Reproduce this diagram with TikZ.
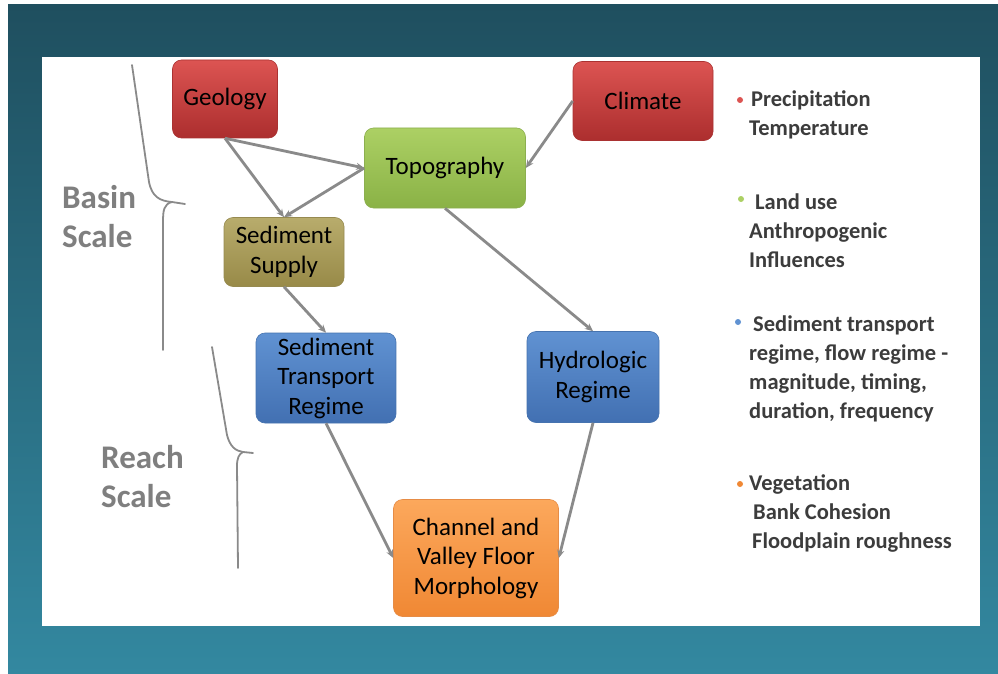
\documentclass[tikz,border=0pt]{standalone}
\usepackage{fontspec}
\setmainfont{Carlito}
\usetikzlibrary{arrows.meta}

\definecolor{frametop}{HTML}{1F4F5F}
\definecolor{framebot}{HTML}{3388A0}
\definecolor{linkgray}{HTML}{8A8A8A}
\definecolor{notegray}{HTML}{3C3C3C}
\definecolor{scalegray}{HTML}{7F7F7F}
\definecolor{redtop}{RGB}{220,84,82}
\definecolor{redbot}{RGB}{172,46,46}
\definecolor{redline}{RGB}{170,50,50}
\definecolor{greentop}{RGB}{172,208,100}
\definecolor{greenbot}{RGB}{138,178,70}
\definecolor{greenline}{RGB}{140,175,80}
\definecolor{olivetop}{RGB}{184,172,108}
\definecolor{olivebot}{RGB}{152,138,72}
\definecolor{oliveline}{RGB}{150,138,80}
\definecolor{bluetop}{RGB}{96,146,210}
\definecolor{bluebot}{RGB}{66,112,178}
\definecolor{blueline}{RGB}{70,115,175}
\definecolor{orangetop}{RGB}{252,168,92}
\definecolor{orangebot}{RGB}{240,136,52}
\definecolor{orangeline}{RGB}{230,140,70}

\begin{document}
\begin{tikzpicture}[x=1pt,y=-1pt,
    box/.style={rounded corners=9pt, inner sep=0pt, align=center,
      font=\fontsize{25}{29.5}\selectfont, text=black, line width=0.6pt},
    redbox/.style={box, top color=redtop, bottom color=redbot, draw=redline},
    greenbox/.style={box, top color=greentop, bottom color=greenbot, draw=greenline},
    olivebox/.style={box, top color=olivetop, bottom color=olivebot, draw=oliveline},
    bluebox/.style={box, top color=bluetop, bottom color=bluebot, draw=blueline},
    orangebox/.style={box, top color=orangetop, bottom color=orangebot, draw=orangeline},
    link/.style={draw=linkgray, line width=2.8pt, -{Stealth[length=8pt,width=7pt]}},
    brace/.style={draw=linkgray, line width=1.8pt, line cap=round, line join=round},
    note/.style={inner sep=0pt, align=left, anchor=west, text=notegray,
      font=\fontsize{22.5}{29}\selectfont\bfseries},
    dot/.style={circle, inner sep=0pt, minimum size=6pt},
    scalelabel/.style={inner sep=0pt, align=left, anchor=west, text=scalegray,
      font=\fontsize{33}{39}\selectfont\bfseries}]
  \useasboundingbox (0,0) rectangle (998,674);
  % frame and panel
  \fill[top color=frametop, bottom color=framebot] (8,5) rectangle (998,674);
  \fill[white] (42,57) rectangle (980,626);

  % boxes
  \node[redbox, minimum width=105pt, minimum height=78pt] (geology) at (225,99) {Geology};
  \node[redbox, minimum width=140pt, minimum height=79pt] (climate) at (643,101) {Climate};
  \node[greenbox, minimum width=161pt, minimum height=80pt] (topo) at (445,168) {Topography};
  \node[olivebox, minimum width=120pt, minimum height=69pt] (supply) at (284,252) {Sediment\\Supply};
  \node[bluebox, minimum width=140pt, minimum height=90pt] (transport) at (326,378) {Sediment\\Transport\\Regime};
  \node[bluebox, minimum width=132pt, minimum height=91pt] (hydro) at (593,377) {Hydrologic\\Regime};
  \node[orangebox, minimum width=165pt, minimum height=117pt] (channel) at (476,558) {Channel and\\Valley Floor\\Morphology};

  % links
  \draw[link] (geology.south) -- (topo.west);
  \draw[link] (geology.south) -- (supply.north);
  \draw[link] (topo.west) -- (supply.north);
  \draw[link] (climate.west) -- (topo.east);
  \draw[link] (topo.south) -- (hydro.north);
  \draw[link] (supply.south) -- (transport.north);
  \draw[link] (transport.south) -- (channel.west);
  \draw[link] (hydro.south) -- (channel.east);

  % scale braces
  \draw[brace] (132,65) -- (149,182) .. controls (152,197) and (160,201) .. (172,202) -- (185,204);
  \draw[brace] (172,202) .. controls (164,204) and (163,210) .. (163,222) -- (163,350);
  \draw[brace] (212,347) -- (227,435) .. controls (230,447) and (236,451) .. (243,452) -- (253,453);
  \draw[brace] (243,452) .. controls (239,454) and (237,458) .. (237,466) -- (238,568);
  \node[scalelabel] (basin) at (62,217) {Basin\\Scale};
  \node[scalelabel] (reach) at (101,477) {Reach\\Scale};

  % notes
  \node[dot, fill=redtop] (climdot) at (740,100) {};
  \node[dot, fill=greentop] (topodot) at (741,199) {};
  \node[dot, fill=bluetop] (regdot) at (738,322) {};
  \node[dot, fill=orangebot] (chandot) at (740,484) {};
  \node[note] (climnote) at (749,115) {\hspace{2pt}Precipitation\\Temperature};
  \node[note] (toponote) at (749,231) {\hspace{6pt}Land use\\Anthropogenic\\Influences};
  \node[note] (regnote) at (749,369) {\hspace{4pt}Sediment transport\\regime, flow regime -\\magnitude, timing,\\duration, frequency};
  \node[note] (channote) at (749,513) {Vegetation\\\hspace{4pt}Bank Cohesion\\\hspace{3pt}Floodplain roughness};
\end{tikzpicture}
\end{document}
